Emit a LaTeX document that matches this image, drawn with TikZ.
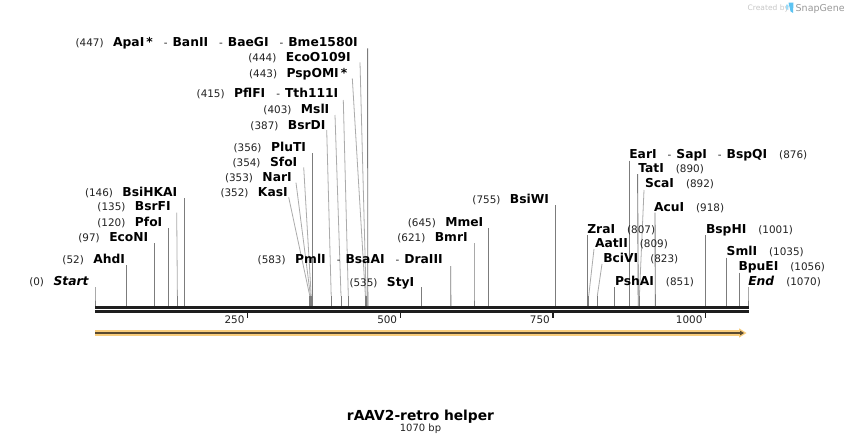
\documentclass[tikz,border=0pt]{standalone}
\usepackage{fontspec}
\setmainfont{DejaVu Sans}
\definecolor{vgray}{HTML}{7C7C7C}
\definecolor{sgray}{HTML}{ABABAB}
\definecolor{axiscol}{HTML}{1E1E1E}
\definecolor{bandcol}{HTML}{F9CD7C}
\definecolor{corecol}{HTML}{5A4A30}
\definecolor{numcol}{HTML}{222222}
\definecolor{logoblue}{HTML}{5CC3F2}
\newcommand\nmf{\fontsize{12.3}{13}\selectfont\bfseries}
\newcommand\numf{\fontsize{10.4}{12}\selectfont\mdseries\color{numcol}}
\newcommand\enz[1]{{\nmf #1}}
\newcommand\pos[1]{{\numf #1}}
\newcommand\dsh{\hspace{11pt}{\numf -}\hspace{5pt}}
\newcommand\lgap{\hspace{9.5pt}}
\newcommand\rgap{\hspace{12pt}}
% slanted site connector: name, top x, top y, site x
\newcommand\sconn[4]{%
  \coordinate (#1-t) at (#2,#3); \coordinate (#1-s) at (#4,296); \coordinate (#1-a) at (#4,306);
  \draw[sline] (#1-t) -- (#1-s); \draw[vline] (#1-s) -- (#1-a);}
% vertical site connector
\newcommand\vconn[4]{%
  \coordinate (#1-t) at (#2,#3); \coordinate (#1-s) at (#4,296); \coordinate (#1-a) at (#4,306);
  \draw[vline] (#1-t) -- (#1-s) -- (#1-a);}
\tikzset{
  lab/.style={inner sep=0pt, outer sep=0pt, text=black},
  llab/.style={lab, anchor=base east},
  rlab/.style={lab, anchor=base west},
  vline/.style={draw=vgray, line width=0.9pt},
  sline/.style={draw=sgray, line width=0.8pt},
  axisline/.style={draw=axiscol, line width=2.6pt},
  tickline/.style={draw=axiscol, line width=1.5pt},
  ticklab/.style={inner sep=0pt, anchor=base east, text=numcol, font=\fontsize{10.4}{12}\selectfont},
}
\begin{document}
\begin{tikzpicture}[x=1pt,y=-1pt]
\useasboundingbox (0,0) rectangle (844,445);
\fill[white] (0,0) rectangle (844,445);

% ---- axis ----
\draw[axisline] (95,307.3) -- (749,307.3);
\draw[axisline] (95,311.3) -- (749,311.3);
\foreach \v in {250,500,750,1000}{
  \pgfmathsetmacro\xx{95+\v*0.6106}
  \draw[tickline] (\xx,312) -- (\xx,318);
  \node[ticklab] (tick\v) at (\xx-3,323.5) {\v};
}

% ---- feature arrow ----
\fill[bandcol] (95,330.2) -- (739,330.2) -- (739,328.3) -- (746.5,333) -- (739,337.7) -- (739,335.8) -- (95,335.8) -- cycle;
\fill[corecol] (95,332.1) -- (740,332.1) -- (740,330.6) -- (744,333) -- (740,335.4) -- (740,333.8) -- (95,333.8) -- cycle;

% ---- left labels ----
\node[llab] (start) at (88.5,285.8) {\pos{(0)}\lgap{\nmf\itshape Start}};
\vconn{start}{95}{287}{95}
\node[llab] (ahdi) at (125,263.3) {\pos{(52)}\lgap\enz{AhdI}};
\vconn{ahdi}{126.8}{265}{126.8}
\node[llab] (econi) at (148.3,241) {\pos{(97)}\lgap\enz{EcoNI}};
\vconn{econi}{154.3}{243}{154.3}
\node[llab] (pfoi) at (162.3,226) {\pos{(120)}\lgap\enz{PfoI}};
\vconn{pfoi}{168.3}{228}{168.3}
\node[llab] (bsrfi) at (170.7,210.8) {\pos{(135)}\lgap\enz{BsrFI}};
\sconn{bsrfi}{176.7}{212.7}{177.4}
\node[llab] (bsihkai) at (177.3,196) {\pos{(146)}\lgap\enz{BsiHKAI}};
\vconn{bsihkai}{184.2}{198}{184.2}

\node[llab] (kasi) at (287.7,196) {\pos{(352)}\lgap\enz{KasI}};
\sconn{kasi}{288.7}{197.3}{309.8}
\node[llab] (nari) at (291.7,181) {\pos{(353)}\lgap\enz{NarI}};
\sconn{nari}{296}{182.7}{310.5}
\node[llab] (sfoi) at (297.3,166) {\pos{(354)}\lgap\enz{SfoI}};
\sconn{sfoi}{303.7}{167.3}{311.2}
\node[llab] (pluti) at (306,151) {\pos{(356)}\lgap\enz{PluTI}};
\vconn{pluti}{312.4}{153.3}{312.4}

\node[llab] (bsrdi) at (325.5,129) {\pos{(387)}\lgap\enz{BsrDI}};
\sconn{bsrdi}{326.7}{130}{331.2}
\node[llab] (msli) at (329.3,113.6) {\pos{(403)}\lgap\enz{MslI}};
\sconn{msli}{335}{115}{341}
\node[llab] (pflfi) at (338.3,97.6) {\pos{(415)}\lgap\enz{PflFI}\dsh\enz{Tth111I}};
\sconn{pflfi}{343.3}{100}{348.3}
\node[llab] (pspomi) at (347.3,77) {\pos{(443)}\lgap\enz{PspOMI\,*}};
\sconn{pspomi}{352.3}{78.3}{365.4}
\node[llab] (ecoo) at (350.7,61) {\pos{(444)}\lgap\enz{EcoO109I}};
\sconn{ecoo}{360}{62.3}{366.1}
\node[llab] (apai) at (357.7,46.6) {\pos{(447)}\lgap\enz{ApaI\,*}\dsh\enz{BanII}\dsh\enz{BaeGI}\dsh\enz{Bme1580I}};
\vconn{apai}{367.6}{48.3}{367.8}

\node[llab] (pmli) at (442.7,263.3) {\pos{(583)}\lgap\enz{PmlI}\dsh\enz{BsaAI}\dsh\enz{DraIII}};
\vconn{pmli}{450.7}{266}{450.8}
\node[llab] (styi) at (414.3,286) {\pos{(535)}\lgap\enz{StyI}};
\vconn{styi}{421.6}{287.3}{421.6}
\node[llab] (bmri) at (467.7,241.6) {\pos{(621)}\lgap\enz{BmrI}};
\vconn{bmri}{474}{243.3}{474}
\node[llab] (mmei) at (483.3,226) {\pos{(645)}\lgap\enz{MmeI}};
\vconn{mmei}{488.6}{228.3}{488.6}
\node[llab] (bsiwi) at (549,203.6) {\pos{(755)}\lgap\enz{BsiWI}};
\vconn{bsiwi}{555.8}{205}{555.8}

% ---- right labels ----
\node[rlab] (eari) at (629.3,158) {\enz{EarI}\dsh\enz{SapI}\dsh\enz{BspQI}\rgap\pos{(876)}};
\vconn{eari}{629.6}{160.5}{629.6}
\node[rlab] (tati) at (638.3,172.8) {\enz{TatI}\rgap\pos{(890)}};
\vconn{tati}{637.6}{174}{638.2}
\node[rlab] (scai) at (645,187.8) {\enz{ScaI}\rgap\pos{(892)}};
\sconn{scai}{644}{190}{639.4}
\node[rlab] (acui) at (654,211) {\enz{AcuI}\rgap\pos{(918)}};
\vconn{acui}{655}{212.7}{655.3}
\node[rlab] (zrai) at (587.3,233.6) {\enz{ZraI}\rgap\pos{(807)}};
\vconn{zrai}{587.5}{235}{587.5}
\node[rlab] (bsphi) at (706,233.6) {\enz{BspHI}\rgap\pos{(1001)}};
\vconn{bsphi}{705.9}{235}{705.9}
\node[rlab] (aatii) at (595,247.6) {\enz{AatII}\rgap\pos{(809)}};
\sconn{aatii}{594}{249}{588.7}
\node[rlab] (smli) at (726.7,255.8) {\enz{SmlI}\rgap\pos{(1035)}};
\vconn{smli}{726.7}{257.5}{726.7}
\node[rlab] (bcivi) at (603.3,262.3) {\enz{BciVI}\rgap\pos{(823)}};
\sconn{bcivi}{602}{264}{597.3}
\node[rlab] (bpuei) at (738.5,270.8) {\enz{BpuEI}\rgap\pos{(1056)}};
\vconn{bpuei}{739.5}{272.5}{739.5}
\node[rlab] (pshai) at (615,285.8) {\enz{PshAI}\rgap\pos{(851)}};
\vconn{pshai}{614.4}{287}{614.4}
\node[rlab] (endl) at (748.3,285.8) {{\nmf\itshape End}\rgap\pos{(1070)}};
\vconn{endl}{748}{287}{748}

% ---- title ----
\node[inner sep=0pt, anchor=base, font=\fontsize{13.8}{15}\selectfont\bfseries] (title) at (420.5,420) {rAAV2-retro helper};
\node[inner sep=0pt, anchor=base, font=\fontsize{10}{12}\selectfont, text=numcol] (bp) at (420.5,431.5) {1070 bp};

% ---- credit ----
\node[inner sep=0pt, anchor=base west, font=\fontsize{7.5}{8}\selectfont, text=black!22] (cb) at (747.5,10.5) {Created by};
\fill[logoblue] (788.5,2.5) -- (793.5,2.5) -- (793,13) -- (790.5,11.3) -- cycle;
\fill[logoblue!60] (786.2,4.5) -- (788.3,4.5) -- (788.3,10) -- (786.2,9) -- cycle;
\node[inner sep=0pt, anchor=base west, font=\fontsize{9.5}{10}\selectfont, text=black!40] (sg) at (795.5,11) {SnapGene};
\end{tikzpicture}
\end{document}
